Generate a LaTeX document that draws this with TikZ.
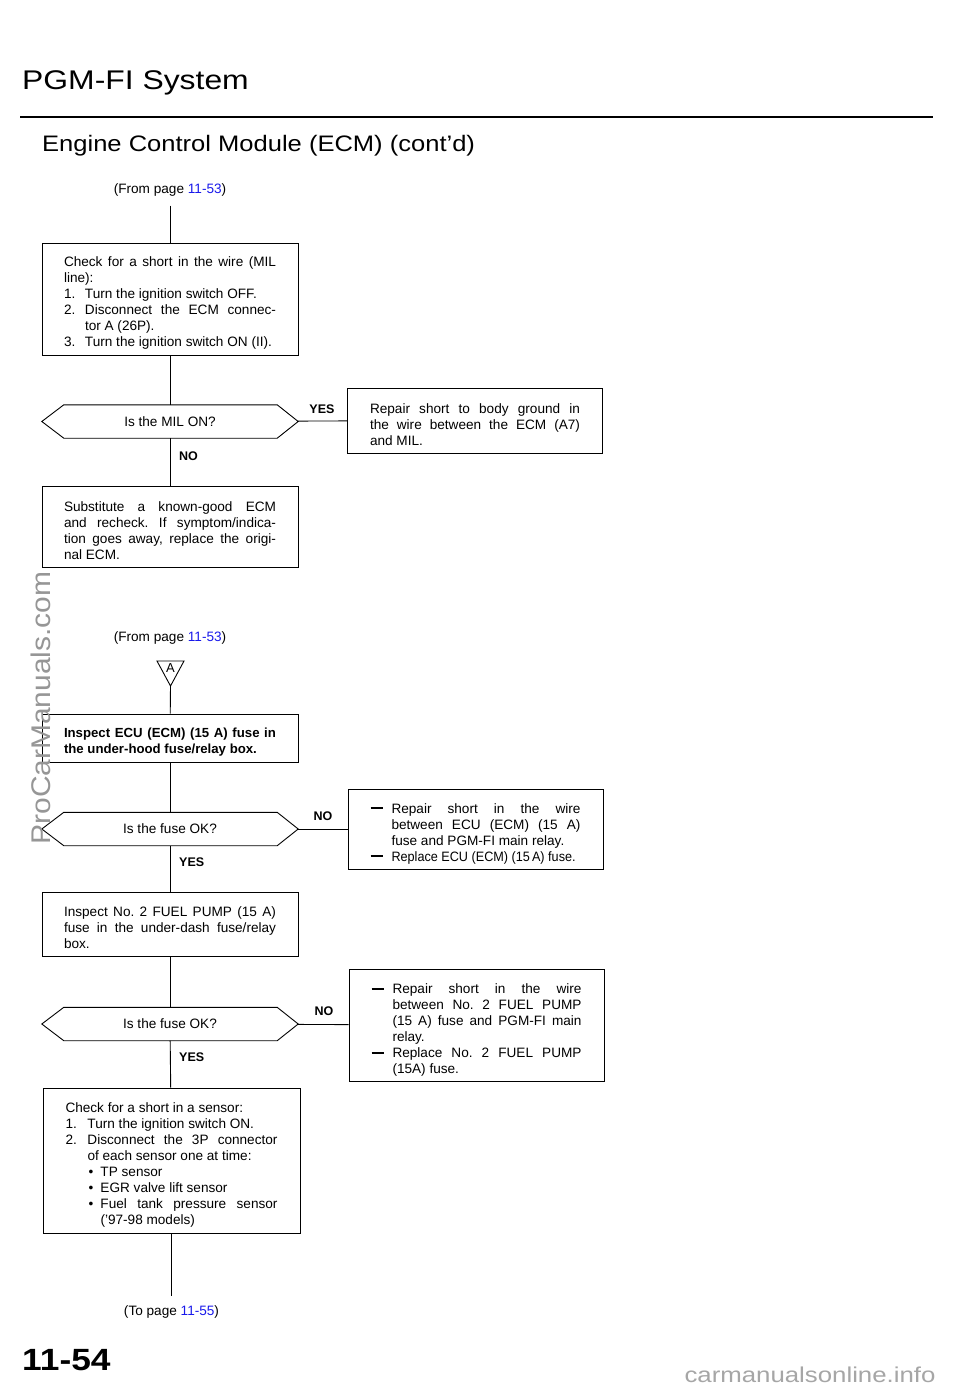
\documentclass[tikz,border=0pt]{standalone}
\usepackage{fontspec}
\setmainfont{Liberation Sans}
\usepackage{xcolor}
\usetikzlibrary{calc}

\definecolor{linkblue}{RGB}{25,25,235}
\definecolor{wmgray}{RGB}{150,150,150}

\newcommand\bodyfont{\fontsize{13.6}{16}\selectfont\frenchspacing\parindent=0pt\hyphenpenalty=10000}
\newcommand\lift{\rule{0pt}{18pt}}
\newcommand\itm[2][21pt]{\par\hangindent=#1\hangafter=1\makebox[#1][l]{#2}}
\newcommand\dsh{\par\hangindent=21pt\hangafter=1\makebox[21pt][l]{\rule[3.6pt]{12.5pt}{2pt}}}
\newcommand\bul{\par\hangindent=35pt\hangafter=1\hspace*{23pt}\makebox[12pt][l]{\textbullet}}
\newcommand\hexa[1]{\draw[wire] (#1.west) -- ([xshift=22pt]#1.north west) -- ([xshift=-21pt]#1.north east) -- (#1.east) -- ([xshift=-21pt]#1.south east) -- ([xshift=22pt]#1.south west) -- cycle;}

\tikzset{
  wire/.style={line width=0.9pt},
  stepbox/.style={draw, line width=0.9pt, inner xsep=22pt, inner ysep=0pt, text width=212pt, align=justify, font=\bodyfont},
  repbox/.style={stepbox, text width=210pt, inner xsep=22.5pt},
  query/.style={minimum width=256pt, minimum height=33pt, inner sep=0pt, font=\bodyfont},
  answer/.style={font=\fontsize{12.5}{14}\selectfont\bfseries, inner sep=0pt},
  pageref/.style={font=\bodyfont, inner xsep=0pt, inner ysep=9pt},
}

\begin{document}
\begin{tikzpicture}[x=1pt, y=-1pt]
\fill[white] (0,0) rectangle (960,1391);
\useasboundingbox (0,0) rectangle (960,1391);

% heading
\node[anchor=base west, inner sep=0pt, font=\fontsize{27}{27}\selectfont] (title) at (22,90) {\scalebox{1.18}[1]{PGM-FI System}};
\draw[line width=2.2pt] (20,117) -- (933,117);
\node[anchor=base west, inner sep=0pt, font=\fontsize{22.4}{22.4}\selectfont] (subtitle) at (42,152) {\scalebox{1.14}[1]{Engine Control Module (ECM) (cont'd)}};

% MIL line check
\node[pageref] (from1) at (170,190) {(From page \textcolor{linkblue}{11-53})};
\node[stepbox, minimum height=112pt] (box1) at (170,299) {\lift Check for a short in the wire (MIL\linebreak line):
\itm{1.}Turn the ignition switch OFF.
\itm{2.}Disconnect the ECM connec-\linebreak tor A (26P).
\itm{3.}Turn the ignition switch ON (II).\par};
\node[query] (mil) at (170,421.5) {Is the MIL ON?};
\hexa{mil}
\node[repbox, minimum height=65pt] (short1) at (475,420.5) {\lift Repair short to body ground in\linebreak the wire between the ECM (A7)\linebreak and MIL.};
\node[stepbox, minimum height=81pt] (subst) at (170,526.5) {\lift Substitute a known-good ECM\linebreak and recheck. If symptom/indica-\linebreak tion goes away, replace the origi-\linebreak nal ECM.};
\node[answer] (yes1) at (322,409) {YES};
\node[answer, anchor=west] (no1) at (179,456) {NO};
\draw[wire] (from1) -- (box1);
\draw[wire] (box1) -- (mil);
\draw[wire] (mil) -- (short1);
\draw[wire] (mil) -- (subst);

% fuse checks
\node[pageref] (from2) at (170,638) {(From page \textcolor{linkblue}{11-53})};
\node[font=\fontsize{13}{13}\selectfont, inner sep=0pt] (triA) at (170.5,668) {A};
\coordinate (triapex) at (170.5,686);
\draw[wire] (157,661) -- (184,661) -- (triapex) -- cycle;
\node[stepbox, minimum height=48pt, font=\bodyfont\fontsize{13.2}{16}\selectfont\bfseries] (box3) at (170,738) {\lift Inspect ECU (ECM) (15~A) fuse in\linebreak the under-hood fuse/relay box.};
\node[query] (fuse1) at (170,829) {Is the fuse OK?};
\hexa{fuse1}
\node[repbox, minimum height=80pt] (short2) at (475.5,829) {\dsh\lift Repair short in the wire\linebreak between ECU (ECM) (15~A)\linebreak fuse and PGM-FI main relay.
\dsh \scalebox{0.93}[1]{Replace ECU (ECM) (15\,A) fuse.}\par};
\node[answer] (no2) at (323,816) {NO};
\node[answer, anchor=west] (yes2) at (179,862) {YES};
\node[stepbox, minimum height=64pt] (box4) at (170,924) {\lift Inspect No.~2 FUEL PUMP (15~A)\linebreak fuse in the under-dash fuse/relay\linebreak box.};
\node[query] (fuse2) at (170,1024) {Is the fuse OK?};
\hexa{fuse2}
\node[repbox, minimum height=112pt] (short3) at (476.5,1025) {\dsh\lift Repair short in the wire\linebreak between No.~2 FUEL PUMP\linebreak (15~A) fuse and PGM-FI main\linebreak relay.
\dsh Replace No.~2 FUEL PUMP\linebreak (15A) fuse.\par};
\node[answer] (no3) at (324,1011) {NO};
\node[answer, anchor=west] (yes3) at (179,1057) {YES};
\node[stepbox, minimum height=145pt, text width=212pt, inner xsep=22.5pt] (box5) at (171.5,1160.5) {\lift Check for a short in a sensor:
\itm[22pt]{1.}Turn the ignition switch ON.
\itm[22pt]{2.}Disconnect the 3P connector\linebreak of each sensor one at time:
\bul TP sensor
\bul EGR valve lift sensor
\bul Fuel tank pressure sensor\linebreak ('97-98 models)\par};
\node[pageref] (to1) at (171.5,1312) {(To page \textcolor{linkblue}{11-55})};
\draw[wire] (triapex) -- (box3);
\draw[wire] (box3) -- (fuse1);
\draw[wire] (fuse1) -- (short2);
\draw[wire] (fuse1) -- (box4);
\draw[wire] (box4) -- (fuse2);
\draw[wire] (fuse2) -- (short3);
\draw[wire] (fuse2) -- (box5);
\draw[wire] (box5) -- (to1);

% page number and marks
\node[anchor=base west, inner sep=0pt, font=\fontsize{30.7}{30.7}\selectfont\bfseries] (pagenum) at (22,1370) {\scalebox{1.15}[1]{11-54}};
\node[rotate=90, text=wmgray, font=\fontsize{27}{27}\selectfont, inner sep=0pt] (wmside) at (41,708) {\scalebox{1.11}[1]{ProCarManuals.com}};
\node[anchor=base, text=wmgray!85, font=\fontsize{21.5}{21.5}\selectfont, inner sep=0pt] (wmfoot) at (810,1382) {\scalebox{1.2}[1]{carmanualsonline.info}};
\end{tikzpicture}
\end{document}
